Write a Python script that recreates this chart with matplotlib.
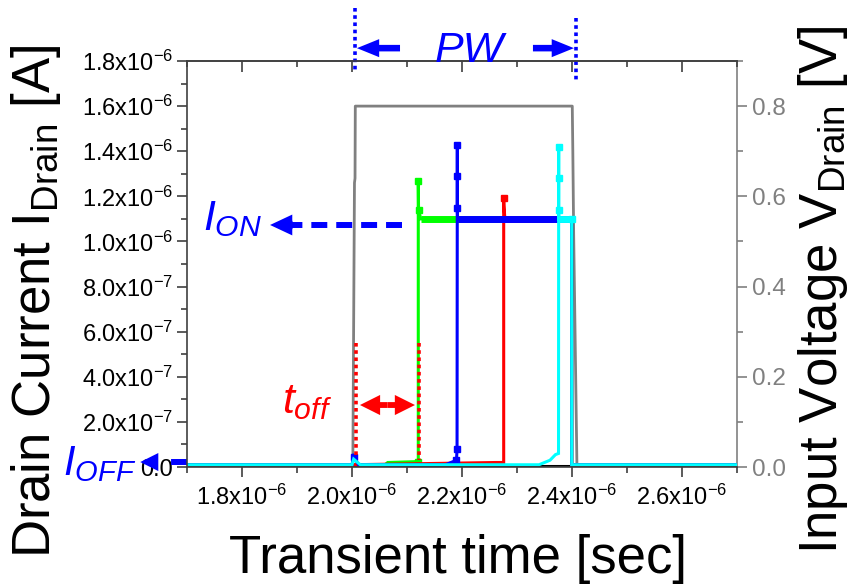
import numpy as np
import matplotlib.pyplot as plt
from matplotlib.ticker import MultipleLocator

plt.rcParams["font.family"] = ["Liberation Sans", "DejaVu Sans"]
plt.rcParams["mathtext.fontset"] = "custom"
plt.rcParams["mathtext.rm"] = "Liberation Sans"
plt.rcParams["mathtext.it"] = "Liberation Sans:italic"
plt.rcParams["mathtext.bf"] = "Liberation Sans:bold"

US = 1e-6  # 数据按 µs / µA 记录，绘图时换算成 s / A

# 输入脉冲 (µs, V)
PULSE_T = [1.70, 2.0015, 2.0045, 2.0055, 2.0060, 2.4005, 2.4015, 2.4030, 2.4090, 2.70]
PULSE_V = [0.0, 0.0, 0.63, 0.64, 0.80, 0.80, 0.70, 0.52, 0.0, 0.0]

# 漏极电流 (µs, µA)
BLACK_T = [1.70, 2.70]
BLACK_I = [0.005, 0.005]

GREEN_T = [1.70, 2.000, 2.060, 2.065, 2.1200, 2.1205, 2.1205, 2.1210, 2.1250, 2.3995, 2.3995, 2.70]
GREEN_I = [0.01, 0.01, 0.01, 0.02, 0.024, 0.024, 1.268, 1.140, 1.100, 1.100, 0.01, 0.01]
GREEN_MARK = [4, 6, 7]

RED_T = [1.70, 2.000, 2.262, 2.2755, 2.2758, 2.2758, 2.2762, 2.2780, 2.3995, 2.3995, 2.70]
RED_I = [0.01, 0.01, 0.02, 0.02, 0.02, 1.194, 1.160, 1.100, 1.100, 0.01, 0.01]
RED_MARK = [5]

BLUE_T = [1.70, 2.000, 2.003, 2.012, 2.170, 2.1900, 2.1910, 2.1915, 2.1915, 2.1915, 2.1920, 2.1960, 2.3995, 2.3995, 2.70]
BLUE_I = [0.01, 0.01, 0.045, 0.01, 0.01, 0.03, 0.08, 1.428, 1.292, 1.150, 1.100, 1.100, 1.100, 0.01, 0.01]
BLUE_MARK = [2, 5, 6, 7, 8, 9]

CYAN_T = [1.70, 2.000, 2.003, 2.015, 2.340, 2.360, 2.370, 2.3755, 2.3758, 2.3758, 2.3758, 2.3762, 2.3800, 2.3995, 2.3995, 2.70]
CYAN_I = [0.01, 0.01, 0.035, 0.01, 0.01, 0.03, 0.055, 0.06, 1.420, 1.280, 1.140, 1.100, 1.100, 1.100, 0.01, 0.01]
CYAN_MARK = [8, 9, 10, 13]

I_ON_LEVEL = 1.10

# 坐标轴刻度
X_TICKS = [1.8, 2.0, 2.2, 2.4, 2.6]
X_LABELS = ["1.8x10$^{-6}$", "2.0x10$^{-6}$", "2.2x10$^{-6}$", "2.4x10$^{-6}$", "2.6x10$^{-6}$"]
Y_TICKS = [0.0, 0.2, 0.4, 0.6, 0.8, 1.0, 1.2, 1.4, 1.6, 1.8]
Y_LABELS = ["0.0", "2.0x10$^{-7}$", "4.0x10$^{-7}$", "6.0x10$^{-7}$", "8.0x10$^{-7}$",
            "1.0x10$^{-6}$", "1.2x10$^{-6}$", "1.4x10$^{-6}$", "1.6x10$^{-6}$", "1.8x10$^{-6}$"]
V_TICKS = [0.0, 0.2, 0.4, 0.6, 0.8]
V_LABELS = ["0.0", "0.2", "0.4", "0.6", "0.8"]

BLUE = "#0000FF"
RED = "#FF0000"
GRAY = "#808080"
AXIS = "#404040"

W, H = 859, 586


def px(x, y):
    """像素坐标 -> figure 坐标"""
    return x / W, 1 - y / H


def us(v):
    return np.asarray(v, dtype=float) * US


def plot_current(ax, t, i, color, marks):
    t = us(t)
    i = us(i)
    ax.plot(t, i, color=color, lw=2.2, solid_joinstyle="miter")
    on = np.isclose(i, I_ON_LEVEL * US)
    ax.plot(t[on], i[on], color=color, lw=5.0, solid_capstyle="butt")
    ax.plot(t[marks], i[marks], ls="none", marker="s", ms=5, color=color, mec=color)


def fat_arrow(ax, head, tail, color, hl, hw, tw):
    ax.annotate("", xy=head, xytext=tail, xycoords="data", annotation_clip=False,
                arrowprops=dict(arrowstyle=f"simple,head_length={hl},head_width={hw},tail_width={tw}",
                                mutation_scale=10, color=color, lw=0, shrinkA=0, shrinkB=0))


fig = plt.figure(figsize=(W / 100, H / 100), dpi=100)
ax = fig.add_axes([187 / W, 1 - 467 / H, 550 / W, 406 / H])
ax2 = ax.twinx()
ax.set_zorder(ax2.get_zorder() + 1)
ax.patch.set_visible(False)

# 输入电压（右轴）
ax2.plot(us(PULSE_T), PULSE_V, color=GRAY, lw=2.0)

# 漏极电流（左轴）
ax.plot(us(BLACK_T), us(BLACK_I), color="black", lw=2.2)
plot_current(ax, GREEN_T, GREEN_I, "#00FF00", GREEN_MARK)
plot_current(ax, RED_T, RED_I, RED, RED_MARK)
plot_current(ax, BLUE_T, BLUE_I, BLUE, BLUE_MARK)
plot_current(ax, CYAN_T, CYAN_I, "#00FFFF", CYAN_MARK)

ax.set_xlim(1.7 * US, 2.7 * US)
ax.set_ylim(0, 1.8 * US)
ax2.set_ylim(0, 0.9)

ax.set_xticks(us(X_TICKS), X_LABELS)
ax.set_yticks(us(Y_TICKS), Y_LABELS)
ax.xaxis.set_minor_locator(MultipleLocator(0.1 * US))
ax.yaxis.set_minor_locator(MultipleLocator(0.1 * US))
ax.tick_params(which="both", direction="out", color=AXIS, width=1.2, labelsize=17)
ax.tick_params(axis="x", pad=6)
ax.tick_params(axis="y", pad=3)
ax.tick_params(which="major", length=7)
ax.tick_params(which="minor", length=4)

ax2.set_yticks(V_TICKS, V_LABELS)
ax2.yaxis.set_minor_locator(MultipleLocator(0.1))
ax2.tick_params(which="both", direction="out", color=GRAY, labelcolor=GRAY, width=1.2,
                labelsize=17.5, pad=4)
ax2.tick_params(which="major", length=7)
ax2.tick_params(which="minor", length=4)

# 顶部刻度朝内
top = ax.secondary_xaxis("top")
top.set_xticks(us(X_TICKS))
top.xaxis.set_minor_locator(MultipleLocator(0.1 * US))
top.tick_params(which="both", direction="in", color=AXIS, width=1.2, labeltop=False)
top.tick_params(which="major", length=8)
top.tick_params(which="minor", length=4)
top.spines["top"].set_color(AXIS)
top.spines["top"].set_linewidth(1.2)

for name in ["left", "bottom", "top"]:
    ax.spines[name].set_color(AXIS)
    ax.spines[name].set_linewidth(1.2)
ax.spines["right"].set_visible(False)
for name in ["left", "bottom", "top"]:
    ax2.spines[name].set_visible(False)
ax2.spines["right"].set_color(GRAY)
ax2.spines["right"].set_linewidth(1.2)

# PW 标注
for x, y0, y1 in [(2.0055, 2.035, 1.747), (2.4073, 1.990, 1.702)]:
    ax.plot(us([x, x]), us([y0, y1]), color=BLUE, lw=2.6, ls=(0, (1, 1)), clip_on=False)
fat_arrow(ax, us([2.009, 1.857]), us([2.0873, 1.857]), BLUE, 1.6, 1.3, 0.47)
fat_arrow(ax, us([2.4035, 1.857]), us([2.329, 1.857]), BLUE, 1.6, 1.3, 0.47)
ax.text(2.1509 * US, 1.795 * US, "PW", color=BLUE, fontsize=31, style="italic",
        ha="left", va="baseline", clip_on=False)

# I_ON 标注
ax.plot(us([2.091, 1.885]), us([1.073, 1.073]), color=BLUE, lw=4.3, ls=(0, (2.67, 1.5)),
        solid_capstyle="butt", dash_capstyle="butt", clip_on=False)
fat_arrow(ax, us([1.851, 1.073]), us([1.892, 1.073]), BLUE, 1.6, 1.5, 0.6)
ax.text(1.729 * US, 1.0507 * US, r"$I_{ON}$", color=BLUE, fontsize=31,
        ha="left", va="baseline", clip_on=False)

# I_OFF 标注
ax.plot(us([1.70, 1.665]), us([0.022, 0.022]), color=BLUE, lw=4.3, ls=(0, (2.67, 1.5)),
        dash_capstyle="butt", clip_on=False)
fat_arrow(ax, us([1.615, 0.022]), us([1.645, 0.022]), BLUE, 1.3, 1.3, 0.6)
ax.text(1.4745 * US, -0.035 * US, r"$I_{OFF}$", color=BLUE, fontsize=30,
        ha="left", va="baseline", clip_on=False)

# t_off 标注
for x, y0 in [(2.0073, 0.04), (2.1218, 0.03)]:
    ax.plot(us([x, x]), us([0.55, y0]), color=RED, lw=2.6, ls=(0, (1, 1)), clip_on=False)
mid = (2.0145 + 2.1145) / 2
fat_arrow(ax, us([2.0145, 0.2748]), us([mid, 0.2748]), RED, 1.45, 1.45, 0.42)
fat_arrow(ax, us([2.1145, 0.2748]), us([mid, 0.2748]), RED, 1.45, 1.45, 0.42)
ax.text(1.8727 * US, 0.239 * US, r"$t_{off}$", color=RED, fontsize=31,
        ha="left", va="baseline", clip_on=False)

# 坐标轴标题
fig.text(*px(458, 573), "Transient time [sec]", fontsize=38, ha="center", va="baseline")
fig.text(*px(50, 301), r"Drain Current $\mathrm{I}_{\mathrm{Drain}}$ [A]", fontsize=38,
         rotation=90, rotation_mode="anchor", ha="center", va="baseline")
fig.text(*px(837, 290), r"Input Voltage $\mathrm{V}_{\mathrm{Drain}}$ [V]", fontsize=38,
         rotation=90, rotation_mode="anchor", ha="center", va="baseline")

fig.savefig("out.png", dpi=100)
